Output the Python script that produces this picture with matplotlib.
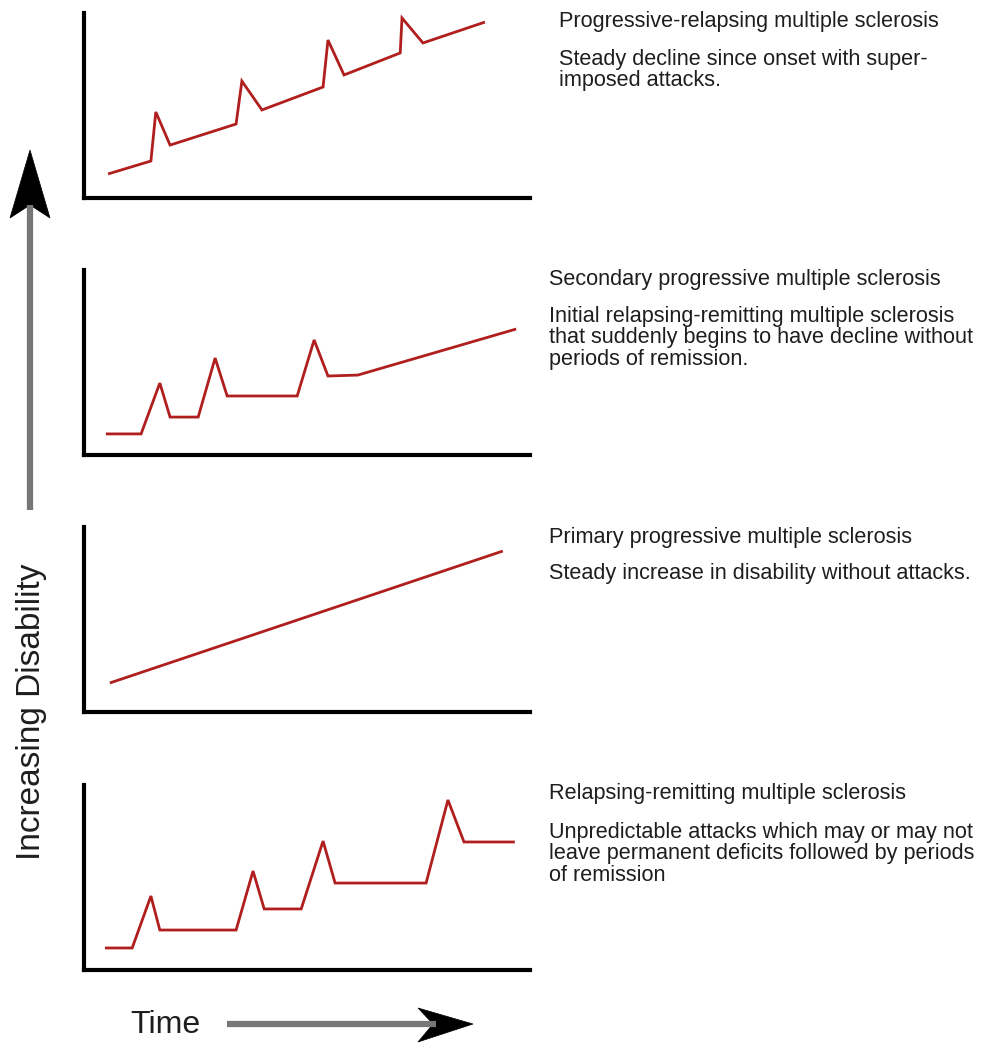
import matplotlib
matplotlib.use("Agg")
import matplotlib.pyplot as plt
from matplotlib.patches import Polygon

plt.rcParams['font.family'] = ['Liberation Sans', 'DejaVu Sans']

# ---- data (time / disability in relative units 0-100 per panel) ----
pr_time = [5.4, 15.0, 16.1, 19.3, 34.1, 35.4, 39.9, 53.6, 54.7, 58.3, 70.9, 71.3, 76.0, 89.9]
pr_dis = [13.0, 20.0, 46.5, 28.6, 40.0, 63.2, 47.6, 60.0, 85.4, 66.5, 78.4, 97.3, 83.8, 95.1]

sp_time = [4.9, 12.8, 17.0, 19.3, 25.6, 29.4, 32.1, 47.8, 51.6, 54.7, 61.4, 96.9]
sp_dis = [11.4, 11.4, 38.9, 20.5, 20.5, 52.4, 31.9, 31.9, 62.2, 42.7, 43.2, 68.1]

pp_time = [5.8, 93.9]
pp_dis = [15.7, 87.0]

rr_time = [4.7, 10.8, 15.0, 17.0, 34.1, 37.9, 40.4, 48.7, 53.6, 56.3, 76.7, 81.6, 85.2, 96.6]
rr_dis = [11.9, 11.9, 40.0, 21.6, 21.6, 53.5, 33.0, 33.0, 69.7, 47.0, 47.0, 91.9, 69.2, 69.2]

titles = [
    "Progressive-relapsing multiple sclerosis",
    "Secondary progressive multiple sclerosis",
    "Primary progressive multiple sclerosis",
    "Relapsing-remitting multiple sclerosis",
]
descriptions = [
    ["Steady decline since onset with super-", "imposed attacks."],
    ["Initial relapsing-remitting multiple sclerosis",
     "that suddenly begins to have decline without",
     "periods of remission."],
    ["Steady increase in disability without attacks."],
    ["Unpredictable attacks which may or may not",
     "leave permanent deficits followed by periods",
     "of remission"],
]
y_label = "Increasing Disability"
x_label = "Time"

series = [(pr_time, pr_dis), (sp_time, sp_dis), (pp_time, pp_dis), (rr_time, rr_dis)]

# ---- layout ----
W, H = 985, 1043
fig = plt.figure(figsize=(W / 100, H / 100), dpi=100)
fig.patch.set_facecolor("white")

panel_bottoms = [198, 455, 712, 970]   # pixel y of bottom spine
panel_h = 185
panel_x0, panel_w = 84, 446
text_x = [559, 549, 549, 549]
title_base = [27, 285, 543, 799]
desc_base = [65, 322, 579, 838]
line_step = 21.3

red = "#b01e1e"
txtc = "#1e1e1e"

for i, (t, d) in enumerate(series):
    yb = panel_bottoms[i]
    ax = fig.add_axes([panel_x0 / W, (H - yb) / H, panel_w / W, panel_h / H])
    ax.plot(t, d, color=red, lw=2.0, solid_joinstyle="miter", solid_capstyle="butt")
    ax.set_xlim(0, 100)
    ax.set_ylim(0, 100)
    for s in ("top", "right"):
        ax.spines[s].set_visible(False)
    for s in ("left", "bottom"):
        ax.spines[s].set_linewidth(3.0)
        ax.spines[s].set_color("black")
        ax.spines[s].set_capstyle("projecting")
    ax.set_xticks([])
    ax.set_yticks([])
    ax.patch.set_alpha(0)

# overlay for annotations in pixel space
ov = fig.add_axes([0, 0, 1, 1], zorder=-1)
ov.set_xlim(0, W)
ov.set_ylim(H, 0)
ov.axis("off")

fs = 15.6
for i in range(4):
    ov.text(text_x[i], title_base[i], titles[i], fontsize=fs, color=txtc,
            ha="left", va="baseline")
    for k, line in enumerate(descriptions[i]):
        ov.text(text_x[i], desc_base[i] + k * line_step, line, fontsize=fs,
                color=txtc, ha="left", va="baseline")

# vertical arrow
gray = "#777777"
ov.plot([30, 30], [510, 205], color=gray, lw=4.5, solid_capstyle="butt")
ov.add_patch(Polygon([[30, 150], [10, 218], [30, 205], [50, 218]], closed=True,
                     facecolor="black", edgecolor="black", lw=0.5))
ov.text(32, 712, y_label, fontsize=24, rotation=90, ha="center", va="center", color=txtc)

# horizontal arrow
ov.plot([227, 436], [1024, 1024], color=gray, lw=4.5, solid_capstyle="butt")
ov.add_patch(Polygon([[473, 1024], [418, 1008], [433, 1024], [418, 1042]], closed=True,
                     facecolor="black", edgecolor="black", lw=0.5))
ov.text(130, 1025, x_label, fontsize=23, ha="left", va="center", color=txtc)

fig.savefig("out.png", dpi=100, facecolor="white")
